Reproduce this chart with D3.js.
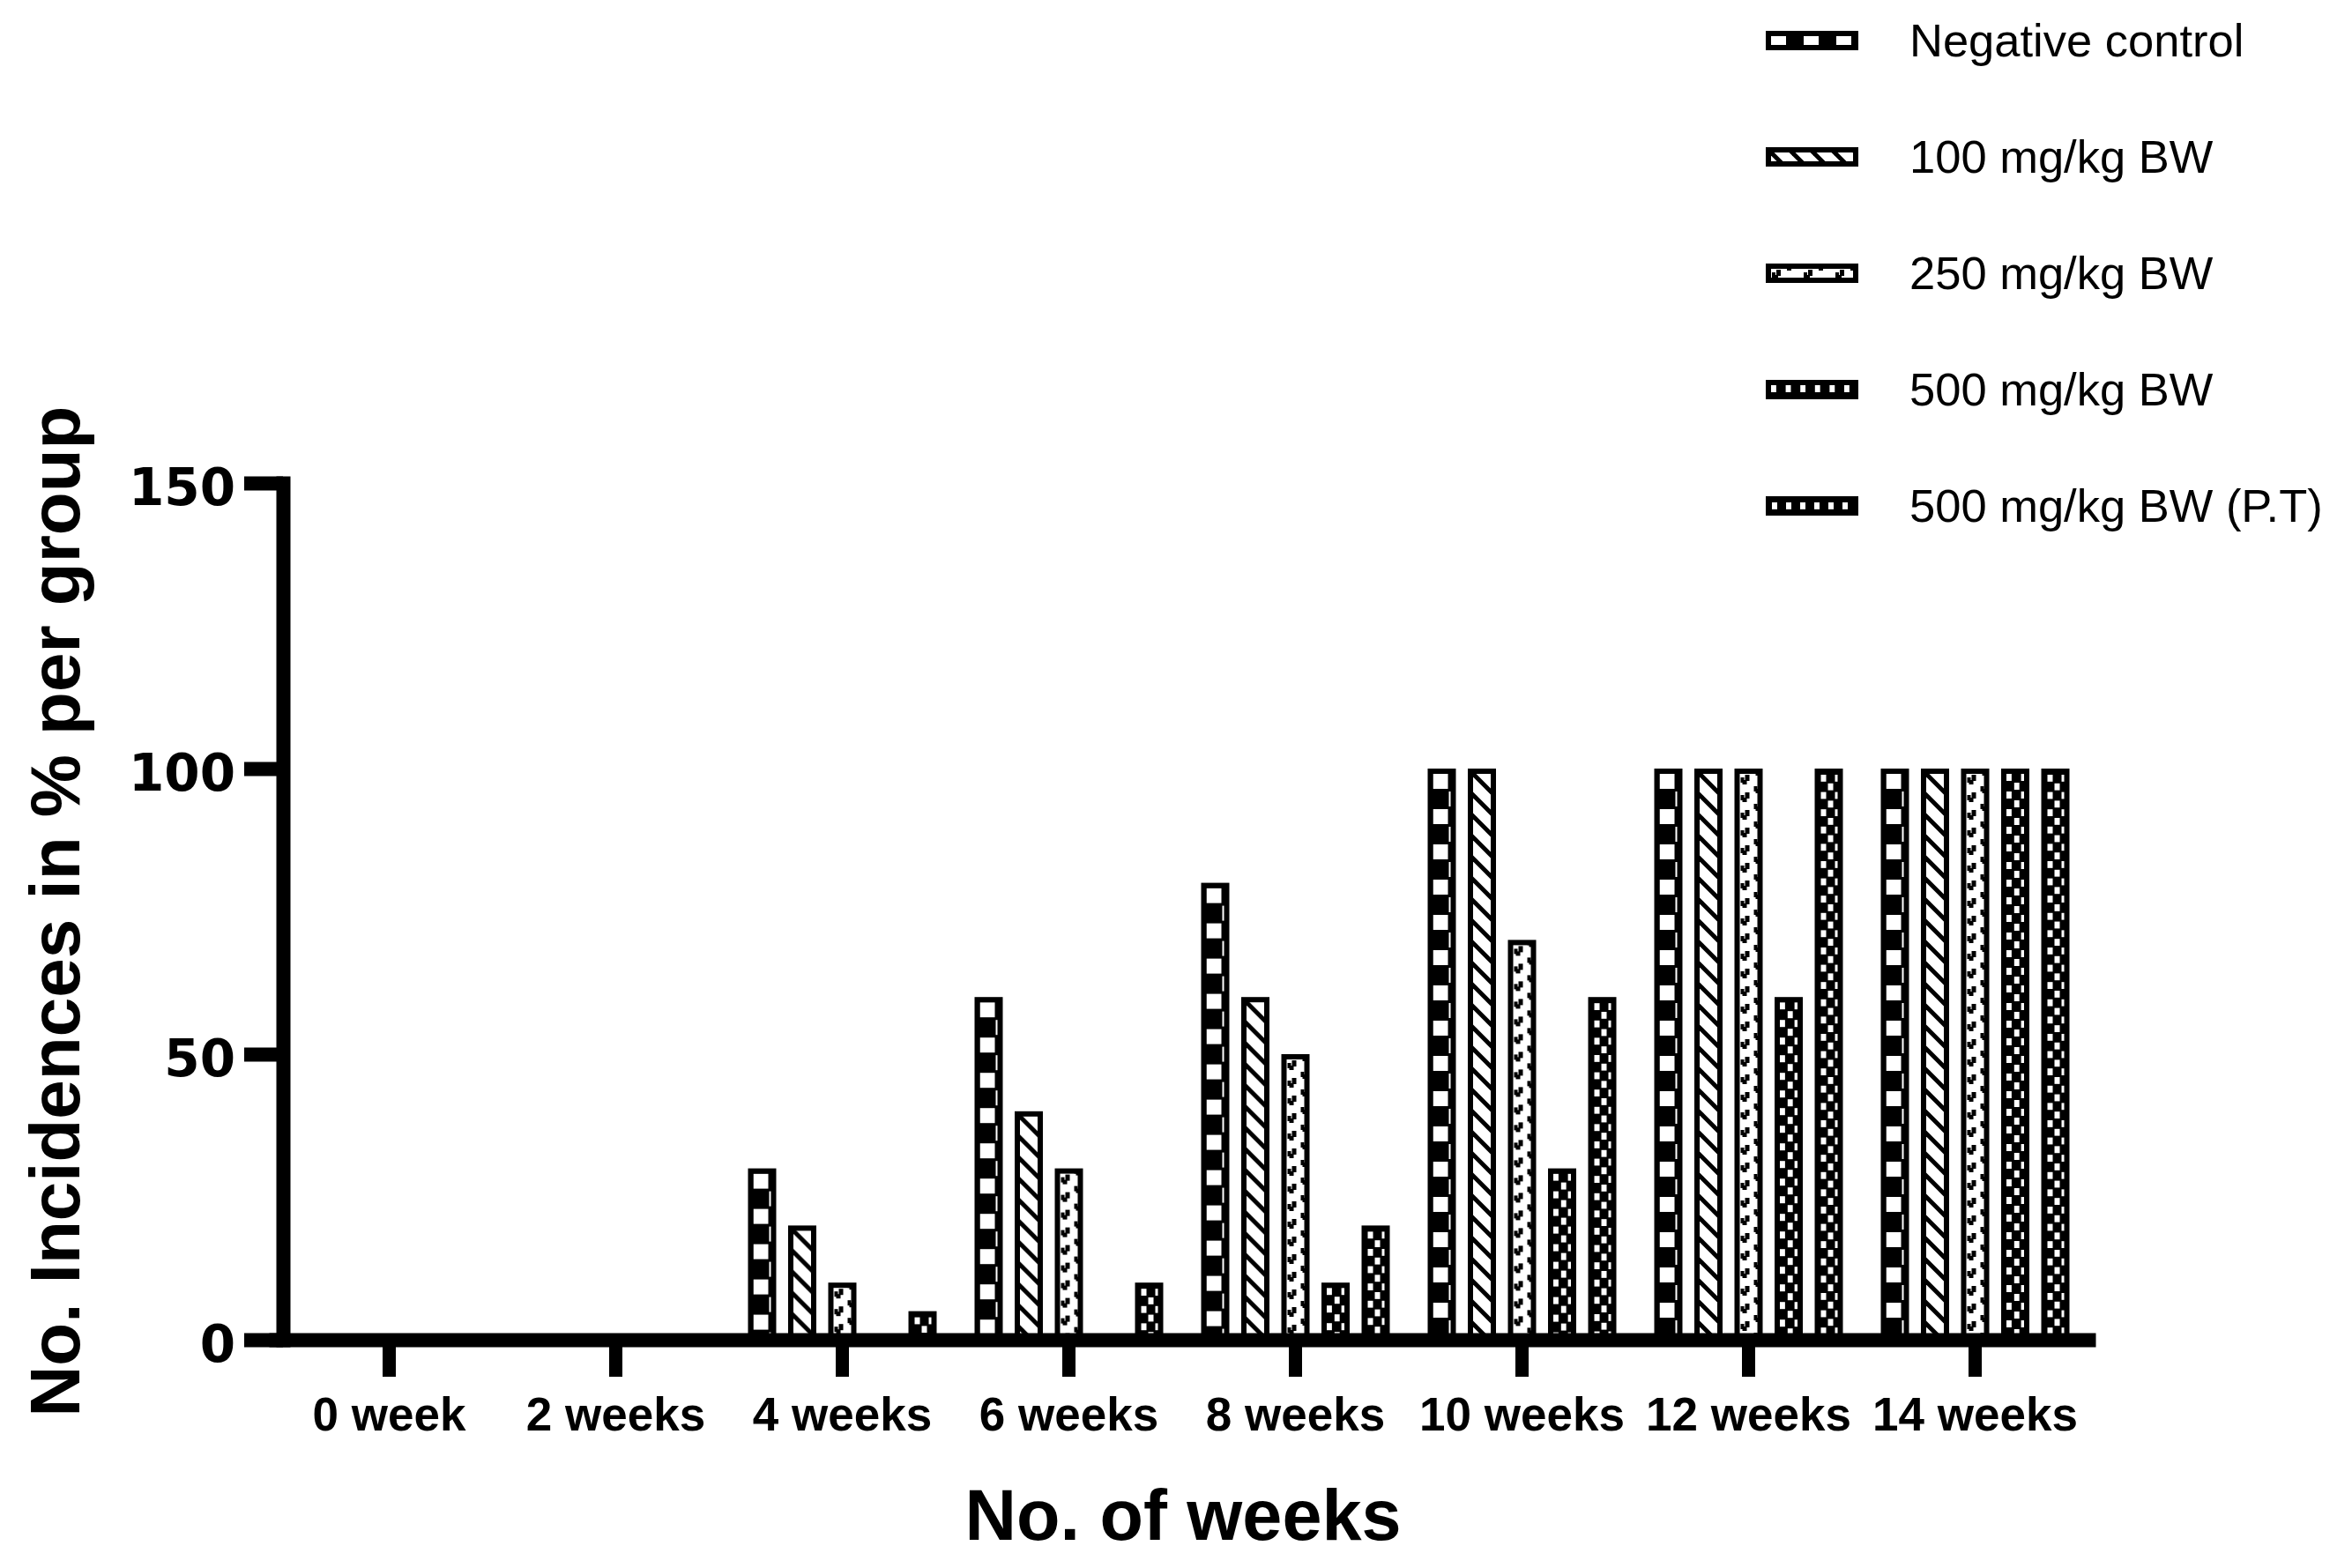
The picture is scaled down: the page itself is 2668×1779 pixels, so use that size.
<!DOCTYPE html>
<html>
<head>
<meta charset="utf-8">
<script src="https://cdn.jsdelivr.net/npm/d3@7"></script>
<style>
  html, body { margin: 0; padding: 0; background: #ffffff; }
  svg { display: block; }
</style>
</head>
<body>
<script>
// ---------------- DATA ----------------
const categories = ["0 week", "2 weeks", "4 weeks", "6 weeks", "8 weeks", "10 weeks", "12 weeks", "14 weeks"];
const seriesNames = ["Negative control", "100 mg/kg BW", "250 mg/kg BW", "500 mg/kg BW", "500 mg/kg BW (P.T)"];
const negativeControl = [0, 0, 30, 60, 80, 100, 100, 100];
const dose100 = [0, 0, 20, 40, 60, 100, 100, 100];
const dose250 = [0, 0, 10, 30, 50, 70, 100, 100];
const dose500 = [0, 0, 0, 0, 10, 30, 60, 100];
const dose500PT = [0, 0, 5, 10, 20, 60, 100, 100];
const yTickValues = [0, 50, 100, 150];
const xTitle = "No. of weeks";
const yTitle = "No. Incidences in % per group";

const seriesValues = [negativeControl, dose100, dose250, dose500, dose500PT];
const patternIds = ["pNeg", "p100", "p250", "p500", "p500pt"];

// ---------------- SETUP ----------------
const W = 2668, H = 1779;
const svg = d3.select("body").append("svg")
  .attr("width", W).attr("height", H)
  .attr("viewBox", `0 0 ${W} ${H}`);
svg.append("rect").attr("width", W).attr("height", H).attr("fill", "#fff");

const defs = svg.append("defs");
function addPattern(id, w, h, bg, fg, rects, paths) {
  const p = defs.append("pattern").attr("id", id)
    .attr("patternUnits", "userSpaceOnUse")
    .attr("width", w).attr("height", h);
  p.append("rect").attr("width", w).attr("height", h).attr("fill", bg);
  (rects || []).forEach(r => p.append("rect")
    .attr("x", r[0]).attr("y", r[1]).attr("width", r[2]).attr("height", r[3])
    .attr("fill", fg).attr("shape-rendering", "crispEdges"));
  (paths || []).forEach(d => p.append("path").attr("d", d)
    .attr("stroke", fg).attr("stroke-width", 5).attr("fill", "none"));
}
// Negative control: large checkerboard
addPattern("pNeg", 37, 40, "#000", "#fff", [[0, 0, 17, 17], [18, 20, 17, 17]]);
// 100 mg/kg: back-diagonal stripes
addPattern("p100", 24, 24, "#fff", "#000", [], ["M-6,-6L30,30", "M-6,18L6,30", "M18,-6L30,6"]);
// 250 mg/kg: sparse small glyphs on white
function glyph(ox, oy) {
  return [[ox, oy + 3, 4, 6], [ox + 2, oy + 6, 5, 5], [ox + 5, oy, 5, 7]];
}
addPattern("p250", 36, 20, "#fff", "#000",
  [].concat(glyph(1, 1), glyph(16, 11), glyph(16, -9)));
// 500 mg/kg: small checkerboard
addPattern("p500", 16.6, 20, "#000", "#fff", [[0, 0, 6, 8], [8.3, 10, 6, 8]]);
// 500 mg/kg (P.T): small checkerboard, slightly different
addPattern("p500pt", 16, 19.6, "#000", "#fff", [[0.5, 0.5, 6, 8], [8.5, 10.3, 6, 8]]);

// ---------------- SCALES ----------------
const x = d3.scaleBand().domain(categories).range([313, 2369]).padding(0);
const y = d3.scaleLinear().domain([0, 150]).range([1520, 548]);
const xSub = d3.scaleBand().domain(seriesNames).range([-107, 107]).paddingInner(0.297).paddingOuter(0);
const border = 6;

// ---------------- BARS ----------------
const barsG = svg.append("g");
seriesNames.forEach((s, si) => {
  seriesValues[si].forEach((v, ci) => {
    if (!(v > 0)) return;
    const cx = x(categories[ci]) + x.bandwidth() / 2;
    const bx = cx + xSub(s);
    const bw = xSub.bandwidth();
    const top = y(v);
    const bottom = y(0);
    barsG.append("rect")
      .attr("x", bx).attr("y", top).attr("width", bw).attr("height", bottom - top)
      .attr("fill", "#000");
    const inner = barsG.append("g")
      .attr("transform", `translate(${bx + border},${top + border})`);
    inner.append("rect")
      .attr("x", 0).attr("y", 0)
      .attr("width", bw - 2 * border)
      .attr("height", Math.max(0, bottom - top - border))
      .attr("fill", `url(#${patternIds[si]})`);
  });
});

// ---------------- AXES ----------------
const yAxis = d3.axisLeft(y).tickValues(yTickValues).tickSize(44).tickSizeOuter(0).tickPadding(10);
const yG = svg.append("g").attr("transform", "translate(321,0)").call(yAxis);
yG.select(".domain").attr("stroke", "#000").attr("stroke-width", 16).attr("stroke-linecap", "square");
yG.selectAll(".tick line").attr("stroke", "#000").attr("stroke-width", 16);
yG.selectAll(".tick text")
  .attr("fill", "#000")
  .attr("font-family", "'DejaVu Sans', sans-serif")
  .attr("font-weight", "bold")
  .attr("font-size", 58)
  .attr("dy", "0.43em");

const xAxis = d3.axisBottom(x).tickSize(42).tickSizeOuter(0).tickPadding(23);
const xG = svg.append("g").attr("transform", "translate(0,1520)").call(xAxis);
xG.select(".domain").attr("stroke", "#000").attr("stroke-width", 16).attr("stroke-linecap", "square");
xG.selectAll(".tick line").attr("stroke", "#000").attr("stroke-width", 15);
xG.selectAll(".tick text")
  .attr("fill", "#000")
  .attr("font-family", "'Liberation Sans', Arial, sans-serif")
  .attr("font-weight", "bold")
  .attr("font-size", 53);

// ---------------- TITLES ----------------
svg.append("text")
  .attr("x", 1342).attr("y", 1747)
  .attr("text-anchor", "middle")
  .attr("font-family", "'Liberation Sans', Arial, sans-serif")
  .attr("font-weight", "bold")
  .attr("font-size", 81)
  .attr("fill", "#000")
  .text(xTitle);

svg.append("text")
  .attr("transform", "translate(90,1034) rotate(-90)")
  .attr("text-anchor", "middle")
  .attr("font-family", "'Liberation Sans', Arial, sans-serif")
  .attr("font-weight", "bold")
  .attr("font-size", 80)
  .attr("fill", "#000")
  .text(yTitle);

// ---------------- LEGEND ----------------
const legendY = d3.scalePoint().domain(seriesNames).range([46, 574]);
const legend = svg.append("g");
seriesNames.forEach((s, si) => {
  const cy = legendY(s);
  legend.append("rect")
    .attr("x", 2003).attr("y", cy - 11).attr("width", 105).attr("height", 22)
    .attr("fill", "#000");
  legend.append("g").attr("transform", `translate(${2003 + border},${cy - 11 + border})`)
    .append("rect")
    .attr("width", 105 - 2 * border).attr("height", 22 - 2 * border)
    .attr("fill", `url(#${patternIds[si]})`);
  legend.append("text")
    .attr("x", 2166).attr("y", cy + 18)
    .attr("font-family", "'Liberation Sans', Arial, sans-serif")
    .attr("font-size", 52.5)
    .attr("fill", "#000")
    .text(s);
});
</script>
</body>
</html>
